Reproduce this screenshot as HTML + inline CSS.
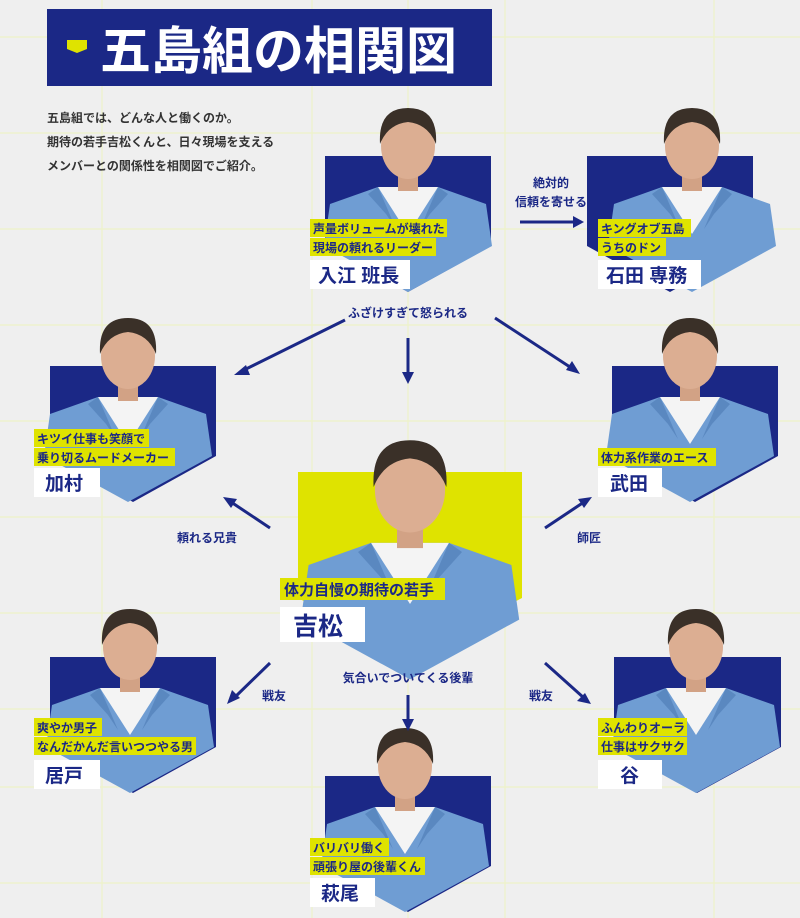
<!DOCTYPE html>
<html><head><meta charset="utf-8"><style>
html,body{margin:0;padding:0;background:#efefef;}
svg{display:block;}
text{font-family:"Liberation Sans","Noto Sans CJK JP",sans-serif;font-weight:bold;}
</style></head><body>
<svg width="800" height="918" viewBox="0 0 800 918" xmlns="http://www.w3.org/2000/svg">
<defs>
<g id="person">
  <polygon points="-78,50 -30,33 30,33 78,50 84,92 0,138 -84,92" fill="#6f9dd3"/>
  <polygon points="-30,33 0,80 30,33" fill="#f4f4f4"/>
  <polygon points="-30,33 -12,75 -22,60 -40,40" fill="#5a88c0"/>
  <polygon points="30,33 12,75 22,60 40,40" fill="#5a88c0"/>
  <rect x="-10" y="15" width="20" height="22" fill="#d2a285"/>
  <ellipse cx="0" cy="-8" rx="27" ry="33" fill="#dcae92"/>
  <path d="M-28,-10 Q-30,-46 0,-46 Q30,-46 28,-10 Q20,-30 0,-32 Q-20,-30 -28,-10Z" fill="#3a3028"/>
</g>
</defs>
<rect width="800" height="918" fill="#efefef"/>
<g stroke="#eef2c8" stroke-width="1.2">
<line x1="102" y1="0" x2="102" y2="918"/><line x1="312" y1="0" x2="312" y2="918"/><line x1="408" y1="0" x2="408" y2="918"/><line x1="505" y1="0" x2="505" y2="918"/><line x1="714" y1="0" x2="714" y2="918"/>
<line x1="0" y1="37" x2="800" y2="37"/><line x1="0" y1="133" x2="800" y2="133"/><line x1="0" y1="229" x2="800" y2="229"/><line x1="0" y1="325" x2="800" y2="325"/><line x1="0" y1="421" x2="800" y2="421"/><line x1="0" y1="517" x2="800" y2="517"/><line x1="0" y1="613" x2="800" y2="613"/><line x1="0" y1="709" x2="800" y2="709"/><line x1="0" y1="787" x2="800" y2="787"/><line x1="0" y1="883" x2="800" y2="883"/>
</g>
<!-- title -->
<rect x="47" y="9" width="445" height="77" fill="#1b2886"/>
<polygon points="67,40 87,40 87,49 77,53 67,49" fill="#dfe300"/>
<text x="100" y="69" font-size="51" fill="#fff">五島組の相関図</text>
<g font-size="12" fill="#333">
<text x="47" y="122">五島組では、どんな人と働くのか。</text>
<text x="47" y="146">期待の若手吉松くんと、日々現場を支える</text>
<text x="47" y="170">メンバーとの関係性を相関図でご紹介。</text>
</g>
<!-- cards -->
<g fill="#1b2886">
<polygon points="325,156 491,156 491,246 408,292 325,246"/>
<polygon points="587,156 753,156 753,246 670,292 587,246"/>
<polygon points="50,366 216,366 216,456 133,502 50,456"/>
<polygon points="612,366 778,366 778,456 695,502 612,456"/>
<polygon points="50,657 216,657 216,747 133,793 50,747"/>
<polygon points="614,657 781,657 781,747 697,793 614,747"/>
<polygon points="325,776 491,776 491,866 408,912 325,866"/>
</g>
<polygon points="298,472 522,472 522,598 410,656 298,598" fill="#dfe300"/>
<use href="#person" transform="translate(408,154)"/>
<use href="#person" transform="translate(692,154)"/>
<use href="#person" transform="translate(128,364)"/>
<use href="#person" transform="translate(690,364)"/>
<use href="#person" transform="translate(130,655)"/>
<use href="#person" transform="translate(696,655)"/>
<use href="#person" transform="translate(405,774)"/>
<use href="#person" transform="translate(410,500) scale(1.3)"/>
<!-- arrows -->
<g stroke="#1b2886" stroke-width="3" fill="#1b2886">
<line x1="520" y1="222" x2="575" y2="222"/><polygon points="584,222 573,216 573,228" stroke="none"/>
<line x1="345" y1="320" x2="242" y2="371"/><polygon points="234,375 246,365 250,375" stroke="none"/>
<line x1="408" y1="338" x2="408" y2="375"/><polygon points="408,384 402,372 414,372" stroke="none"/>
<line x1="495" y1="318" x2="573" y2="369"/><polygon points="580,374 566,370 572,361" stroke="none"/>
<line x1="270" y1="528" x2="231" y2="502"/><polygon points="223,497 237,499 231,508" stroke="none"/>
<line x1="545" y1="528" x2="584" y2="502"/><polygon points="592,497 578,499 584,508" stroke="none"/>
<line x1="270" y1="663" x2="234" y2="698"/><polygon points="227,704 232,690 240,698" stroke="none"/>
<line x1="408" y1="695" x2="408" y2="722"/><polygon points="408,731 402,719 414,719" stroke="none"/>
<line x1="545" y1="663" x2="584" y2="698"/><polygon points="591,704 577,701 585,693" stroke="none"/>
</g>
<g font-size="12" fill="#1b2886" text-anchor="middle">
<text x="551" y="187">絶対的</text><text x="551" y="206">信頼を寄せる</text>
<text x="408" y="317">ふざけすぎて怒られる</text>
<text x="207" y="542">頼れる兄貴</text>
<text x="589" y="542">師匠</text>
<text x="274" y="700">戦友</text>
<text x="408" y="682">気合いでついてくる後輩</text>
<text x="541" y="700">戦友</text>
</g>
<!-- labels -->
<g fill="#dfe300">
<rect x="310" y="219" width="137" height="18"/><rect x="310" y="238" width="126" height="18"/>
<rect x="598" y="219" width="93" height="18"/><rect x="598" y="238" width="68" height="18"/>
<rect x="34" y="429" width="115" height="18"/><rect x="34" y="448" width="141" height="18"/>
<rect x="598" y="448" width="118" height="18"/>
<rect x="280" y="578" width="165" height="22"/>
<rect x="34" y="718" width="68" height="18"/><rect x="34" y="737" width="162" height="18"/>
<rect x="598" y="718" width="89" height="18"/><rect x="598" y="737" width="89" height="18"/>
<rect x="310" y="838" width="79" height="18"/><rect x="310" y="857" width="115" height="18"/>
</g>
<g font-size="12" fill="#1b2886">
<text x="313" y="233">声量ボリュームが壊れた</text><text x="313" y="252">現場の頼れるリーダー</text>
<text x="601" y="233">キングオブ五島</text><text x="601" y="252">うちのドン</text>
<text x="37" y="443">キツイ仕事も笑顔で</text><text x="37" y="462">乗り切るムードメーカー</text>
<text x="601" y="462">体力系作業のエース</text>
<text x="37" y="732">爽やか男子</text><text x="37" y="751">なんだかんだ言いつつやる男</text>
<text x="601" y="732">ふんわりオーラ</text><text x="601" y="751">仕事はサクサク</text>
<text x="313" y="852">バリバリ働く</text><text x="313" y="871">頑張り屋の後輩くん</text>
</g>
<text x="284" y="595" font-size="15" fill="#1b2886">体力自慢の期待の若手</text>
<!-- names -->
<g fill="#fff">
<rect x="310" y="260" width="100" height="29"/><rect x="598" y="260" width="103" height="29"/>
<rect x="34" y="468" width="66" height="29"/><rect x="598" y="468" width="64" height="29"/>
<rect x="280" y="607" width="85" height="35"/>
<rect x="34" y="760" width="66" height="29"/><rect x="598" y="760" width="64" height="29"/>
<rect x="310" y="878" width="65" height="29"/>
</g>
<g font-size="19" fill="#1b2886">
<text x="318" y="282">入江 班長</text><text x="606" y="282">石田 専務</text>
<text x="45" y="490">加村</text><text x="610" y="490">武田</text>
<text x="45" y="782">居戸</text><text x="620" y="782">谷</text>
<text x="321" y="900">萩尾</text>
</g>
<text x="293" y="635" font-size="25" fill="#1b2886">吉松</text>
</svg>
</body></html>
